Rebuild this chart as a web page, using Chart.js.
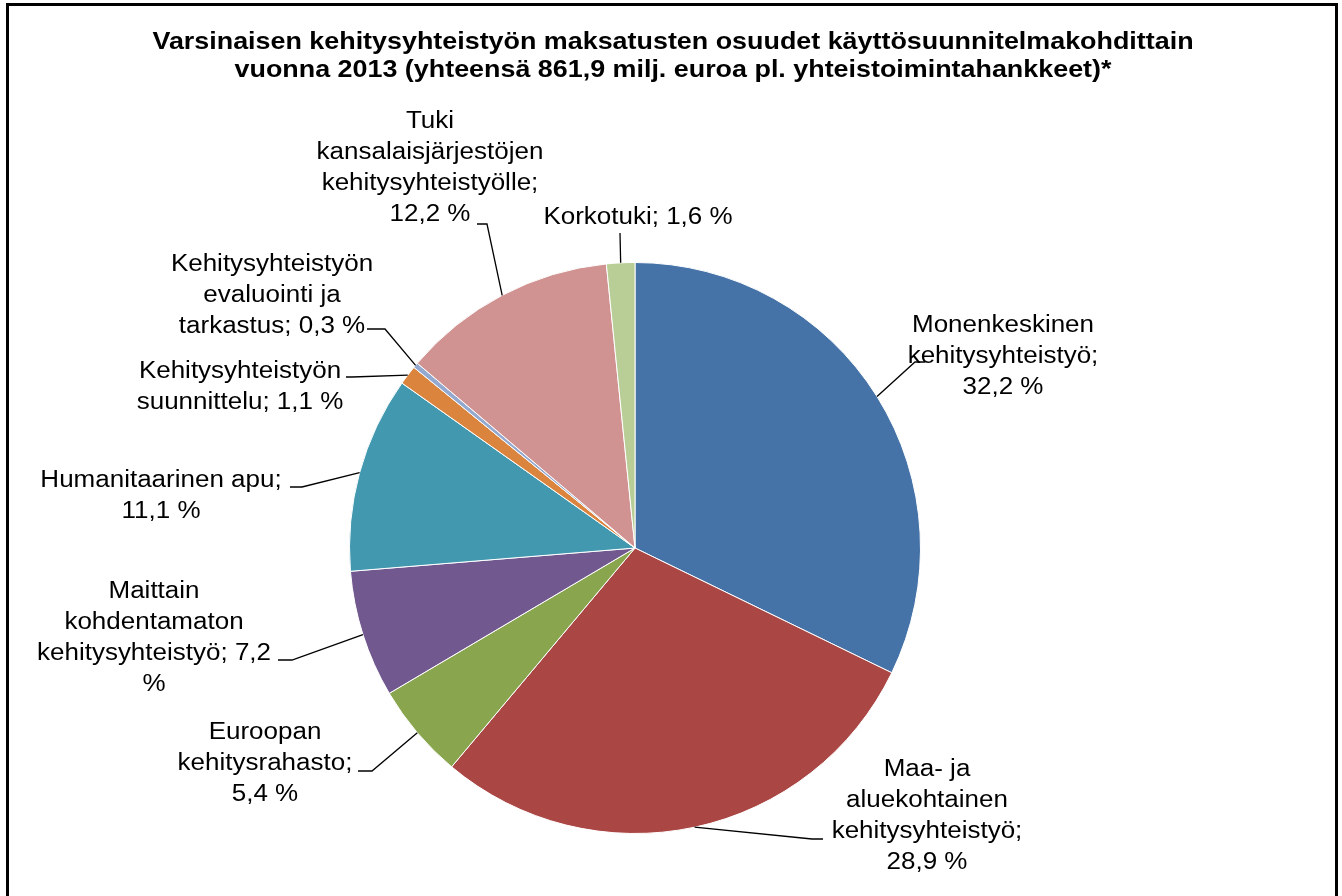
<!DOCTYPE html>
<html>
<head>
<meta charset="utf-8">
<script src="https://cdn.jsdelivr.net/npm/chart.js@4.4.0/dist/chart.umd.min.js"></script>
<style>
  html, body { margin: 0; padding: 0; background: #fff; }
  canvas { display: block; }
</style>
</head>
<body>
<canvas id="mychart" width="1342" height="896"></canvas>
<script>
const ctx = document.getElementById("mychart").getContext("2d");

const categories = [
  "Monenkeskinen kehitysyhteistyö",
  "Maa- ja aluekohtainen kehitysyhteistyö",
  "Euroopan kehitysrahasto",
  "Maittain kohdentamaton kehitysyhteistyö",
  "Humanitaarinen apu",
  "Kehitysyhteistyön suunnittelu",
  "Kehitysyhteistyön evaluointi ja tarkastus",
  "Tuki kansalaisjärjestöjen kehitysyhteistyölle",
  "Korkotuki",
];
const shares = [32.2, 28.9, 5.4, 7.2, 11.1, 1.1, 0.3, 12.2, 1.6];
const colors = ["#4572A7", "#AA4643", "#89A54E", "#71588F", "#4198AF", "#DB843D", "#93A9CF", "#D19392", "#B9CD96"];
const titleLines = [
  "Varsinaisen kehitysyhteistyön maksatusten osuudet käyttösuunnitelmakohdittain",
  "vuonna 2013 (yhteensä 861,9 milj. euroa pl. yhteistoimintahankkeet)*",
];

// where each label sits: text centre x, first line y, wrap width, leader elbow and end
const labelPlaces = [
  { x: 1003, y: 326, wrap: 170, elbow: [915, 362], end: [925, 362] },
  { x: 927, y: 770, wrap: 190, elbow: [812, 839], end: [823, 839] },
  { x: 265, y: 733, wrap: 190, elbow: [372, 771], end: [358, 771] },
  { x: 154, y: 592, wrap: 245, elbow: [292, 660], end: [278, 660] },
  { x: 161, y: 481, wrap: 250, elbow: [302, 487], end: [290, 487] },
  { x: 240, y: 372, wrap: 210, elbow: [352, 377], end: [346, 377] },
  { x: 272, y: 265, wrap: 210, elbow: [385, 329], end: [367, 329] },
  { x: 430, y: 122, wrap: 240, elbow: [487, 224], end: [477, 224] },
  { x: 638, y: 218, wrap: 300, elbow: [620, 233], end: [620, 233] },
];

const STRETCH = 1.13;
const TITLE_STRETCH = 1.12;
const labelFont = "23px 'Liberation Sans', Arial, sans-serif";
const titleFont = "bold 24px 'Liberation Sans', Arial, sans-serif";

function pct(v) {
  return v.toFixed(1).replace(".", ",") + " %";
}

function wrapText(c, text, maxW) {
  const words = text.split(" ");
  const lines = [];
  let cur = "";
  words.forEach((w) => {
    const test = cur ? cur + " " + w : w;
    if (cur && c.measureText(test).width * STRETCH > maxW) {
      lines.push(cur);
      cur = w;
    } else {
      cur = test;
    }
  });
  if (cur) lines.push(cur);
  return lines;
}

function stretchedText(c, text, x, y, sx) {
  c.save();
  c.translate(x, y);
  c.scale(sx, 1);
  c.fillText(text, 0, 0);
  c.restore();
}

const labelsPlugin = {
  id: "pieLabels",
  afterDraw(chart) {
    const c = chart.ctx;
    const arcs = chart.getDatasetMeta(0).data;
    c.save();

    // frame
    c.strokeStyle = "#000";
    c.lineWidth = 3;
    c.beginPath();
    c.moveTo(7.5, 900);
    c.lineTo(7.5, 4.5);
    c.lineTo(1336.5, 4.5);
    c.lineTo(1336.5, 900);
    c.stroke();

    // title
    c.fillStyle = "#000";
    c.font = titleFont;
    c.textAlign = "center";
    c.textBaseline = "alphabetic";
    stretchedText(c, titleLines[0], 673, 49, TITLE_STRETCH);
    stretchedText(c, titleLines[1], 673, 77, TITLE_STRETCH);

    c.font = labelFont;
    c.textBaseline = "middle";
    c.lineWidth = 1.3;
    arcs.forEach((arc, i) => {
      const p = labelPlaces[i];
      const mid = (arc.startAngle + arc.endAngle) / 2;
      const ax = arc.x + Math.cos(mid) * arc.outerRadius;
      const ay = arc.y + Math.sin(mid) * arc.outerRadius;
      c.beginPath();
      c.moveTo(ax, ay);
      c.lineTo(p.elbow[0], p.elbow[1]);
      c.lineTo(p.end[0], p.end[1]);
      c.stroke();

      const lines = wrapText(c, categories[i] + "; " + pct(shares[i]), p.wrap);
      lines.forEach((ln, k) => {
        stretchedText(c, ln, p.x, p.y + k * 31, STRETCH);
      });
    });
    c.restore();
  },
};

const chart = new Chart(ctx, {
  type: "pie",
  data: {
    labels: categories,
    datasets: [
      {
        data: shares,
        backgroundColor: colors,
        borderColor: "#fff",
        borderWidth: 1,
      },
    ],
  },
  options: {
    responsive: false,
    animation: false,
    layout: {
      padding: { left: 349, right: 421, top: 262, bottom: 62 },
    },
    plugins: {
      legend: { display: false },
      tooltip: { enabled: false },
      title: { display: false },
    },
  },
  plugins: [labelsPlugin],
});
</script>
</body>
</html>
